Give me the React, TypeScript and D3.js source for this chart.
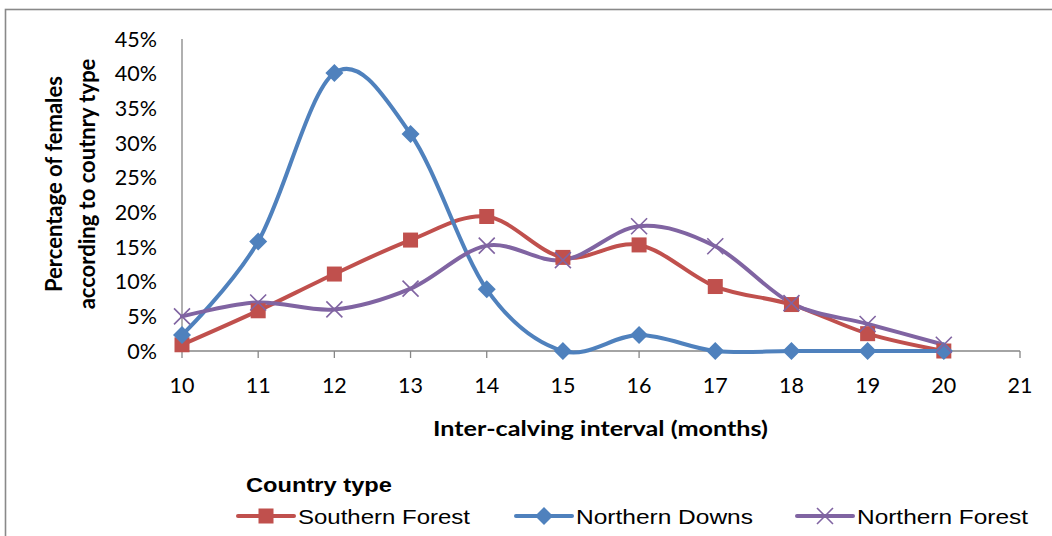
import React from "react";
import * as d3 from "d3";

// Inter-calving interval categories (months)
const months = [10, 11, 12, 13, 14, 15, 16, 17, 18, 19, 20];
const xTicks = [10, 11, 12, 13, 14, 15, 16, 17, 18, 19, 20, 21];
const yTicks = [0, 5, 10, 15, 20, 25, 30, 35, 40, 45];

// Percentage of females per country type
const southernForest = [0.9, 5.8, 11.1, 16.0, 19.4, 13.5, 15.3, 9.3, 6.7, 2.5, 0];
const northernDowns = [2.3, 15.8, 40.1, 31.3, 8.9, 0, 2.3, 0, 0, 0, 0];
const northernForest = [5.0, 7.0, 6.0, 9.0, 15.2, 13.1, 18.0, 15.1, 6.9, 3.9, 0.9];

const seriesNames = ["Southern Forest", "Northern Downs", "Northern Forest"];
const seriesColors = ["#C0504D", "#4F81BD", "#8064A2"];
const seriesMarkers = ["square", "diamond", "x"];

const W = 1052;
const H = 536;
const plot = { left: 182, right: 1020, top: 39, bottom: 351 };

const axisColor = "#868686";
const tickFont = "Lato, 'Open Sans', sans-serif";

function Marker({ kind, x, y, color }: { kind: string; x: number; y: number; color: string }) {
  if (kind === "square") {
    const s = 15;
    return <rect x={x - s / 2} y={y - s / 2} width={s} height={s} fill={color} />;
  }
  if (kind === "diamond") {
    const r = 9;
    return (
      <path d={`M${x},${y - r}L${x + r},${y}L${x},${y + r}L${x - r},${y}Z`} fill={color} />
    );
  }
  const r = 8;
  return (
    <path
      d={`M${x - r},${y - r}L${x + r},${y + r}M${x - r},${y + r}L${x + r},${y - r}`}
      stroke={color}
      strokeWidth={1.6}
      fill="none"
    />
  );
}

export default function App() {
  const x = d3.scaleLinear().domain([10, 21]).range([plot.left, plot.right]);
  const y = d3.scaleLinear().domain([0, 45]).range([plot.bottom, plot.top]);

  const allSeries = [southernForest, northernDowns, northernForest];

  const line = d3
    .line<number>()
    .x((_, i) => x(months[i]))
    .y((d) => y(d))
    .curve(d3.curveCatmullRom.alpha(0));

  const legendItems = [
    { lineX0: 238, lineX1: 294, textX: 298, width: 172 },
    { lineX0: 516, lineX1: 572, textX: 576, width: 177 },
    { lineX0: 797, lineX1: 853, textX: 857, width: 171 },
  ];
  const legendY = 516;

  return (
    <svg
      width={W}
      height={H}
      style={{ position: "absolute", left: 0, top: 0, background: "#fff" }}
    >
      <rect x={0} y={0} width={W} height={H} fill="#fff" />
      {/* chart frame */}
      <rect x={5.5} y={9.5} width={W + 40} height={H + 40} fill="none" stroke="#898989" strokeWidth={1.6} />

      {/* y axis */}
      <line x1={plot.left} x2={plot.left} y1={plot.top} y2={plot.bottom} stroke={axisColor} strokeWidth={1.3} />
      {yTicks.map((t) => (
        <text
          key={t}
          x={157}
          y={y(t)}
          dy="0.36em"
          textAnchor="end"
          fontFamily={tickFont}
          fontSize={21.5}
          fill="#000"
        >
          {t}%
        </text>
      ))}

      {/* x axis */}
      <line x1={plot.left} x2={plot.right} y1={plot.bottom} y2={plot.bottom} stroke={axisColor} strokeWidth={1.3} />
      {xTicks.map((t) => (
        <g key={t}>
          <line x1={x(t)} x2={x(t)} y1={plot.bottom} y2={plot.bottom + 7} stroke={axisColor} strokeWidth={1.3} />
          <text x={x(t)} y={393} textAnchor="middle" fontFamily={tickFont} fontSize={21.5} fill="#000">
            {t}
          </text>
        </g>
      ))}

      {/* axis titles */}
      <text
        x={600.5}
        y={436}
        textAnchor="middle"
        fontFamily={tickFont}
        fontWeight="bold"
        fontSize={21.5}
        textLength={335}
        lengthAdjust="spacingAndGlyphs"
        fill="#000"
      >
        Inter-calving interval (months)
      </text>
      <text
        transform="translate(62,184) rotate(-90)"
        textAnchor="middle"
        fontFamily={tickFont}
        fontWeight="bold"
        fontSize={22}
        fill="#000"
      >
        Percentage of females
      </text>
      <text
        transform="translate(95,184) rotate(-90)"
        textAnchor="middle"
        fontFamily={tickFont}
        fontWeight="bold"
        fontSize={22}
        fill="#000"
      >
        according to coutnry type
      </text>

      {/* series lines */}
      {allSeries.map((vals, si) => (
        <path
          key={seriesNames[si]}
          d={line(vals) || ""}
          fill="none"
          stroke={seriesColors[si]}
          strokeWidth={4}
          strokeLinejoin="round"
          strokeLinecap="round"
        />
      ))}
      {/* series markers */}
      {allSeries.map((vals, si) => (
        <g key={`m-${seriesNames[si]}`}>
          {vals.map((v, i) => (
            <Marker key={i} kind={seriesMarkers[si]} x={x(months[i])} y={y(v)} color={seriesColors[si]} />
          ))}
        </g>
      ))}

      {/* legend */}
      <text
        x={246}
        y={492}
        fontFamily="'Liberation Sans', Arial, sans-serif"
        fontWeight="bold"
        fontSize={21}
        textLength={146}
        lengthAdjust="spacingAndGlyphs"
        fill="#000"
      >
        Country type
      </text>
      {legendItems.map((it, si) => {
        const cx = (it.lineX0 + it.lineX1) / 2;
        return (
          <g key={seriesNames[si]}>
            <line
              x1={it.lineX0}
              x2={it.lineX1}
              y1={legendY}
              y2={legendY}
              stroke={seriesColors[si]}
              strokeWidth={4}
              strokeLinecap="round"
            />
            <Marker kind={seriesMarkers[si]} x={cx} y={legendY} color={seriesColors[si]} />
            <text
              x={it.textX}
              y={legendY + 8}
              fontFamily="'Liberation Sans', Arial, sans-serif"
              fontSize={21}
              textLength={it.width}
              lengthAdjust="spacingAndGlyphs"
              fill="#000"
            >
              {seriesNames[si]}
            </text>
          </g>
        );
      })}
    </svg>
  );
}
